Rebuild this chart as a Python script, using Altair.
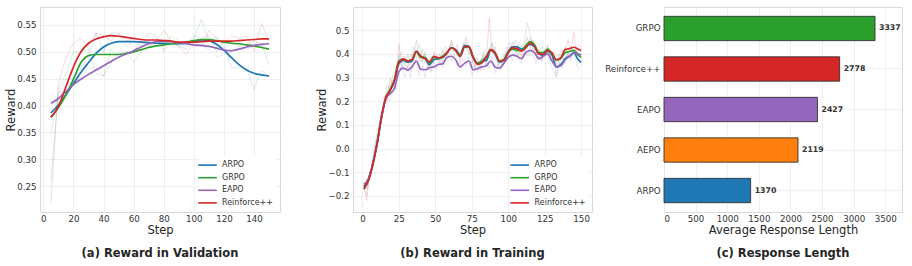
import altair as alt
import pandas as pd

SERIES = ["ARPO", "GRPO", "EAPO", "Reinforce++"]
COLORS = ["#1f77b4", "#2ca02c", "#9467bd", "#d62728"]

# ---------------- (a) Reward in Validation ----------------
val_steps = list(range(5, 155, 5))
val_smooth_arpo = [0.386, 0.401, 0.420, 0.441, 0.462, 0.480, 0.497, 0.509, 0.516, 0.519,
                   0.519, 0.519, 0.518, 0.517, 0.516, 0.516, 0.515, 0.515, 0.516, 0.519,
                   0.522, 0.521, 0.514, 0.503, 0.489, 0.476, 0.466, 0.460, 0.457, 0.455]
val_smooth_grpo = [0.378, 0.396, 0.420, 0.449, 0.480, 0.493, 0.495, 0.495, 0.495, 0.495,
                   0.497, 0.500, 0.504, 0.508, 0.511, 0.513, 0.515, 0.516, 0.518, 0.521,
                   0.523, 0.523, 0.521, 0.518, 0.516, 0.515, 0.513, 0.511, 0.508, 0.505]
val_smooth_eapo = [0.404, 0.413, 0.426, 0.439, 0.449, 0.458, 0.466, 0.474, 0.482, 0.490,
                   0.496, 0.502, 0.509, 0.515, 0.519, 0.520, 0.519, 0.517, 0.515, 0.513,
                   0.512, 0.510, 0.507, 0.503, 0.502, 0.505, 0.509, 0.512, 0.514, 0.515]
val_smooth_rpp = [0.378, 0.398, 0.435, 0.472, 0.500, 0.516, 0.524, 0.528, 0.530, 0.529,
                  0.527, 0.525, 0.523, 0.522, 0.522, 0.521, 0.520, 0.518, 0.518, 0.518,
                  0.519, 0.520, 0.520, 0.520, 0.520, 0.521, 0.522, 0.523, 0.524, 0.524]

val_raw_arpo = [0.345, 0.42, 0.45, 0.45, 0.47, 0.495, 0.535, 0.50, 0.535, 0.535,
                0.51, 0.52, 0.51, 0.535, 0.53, 0.50, 0.52, 0.51, 0.505, 0.525,
                0.56, 0.52, 0.53, 0.51, 0.47, 0.47, 0.47, 0.43, 0.465, 0.455]
val_raw_grpo = [0.26, 0.43, 0.46, 0.50, 0.50, 0.505, 0.46, 0.455, 0.505, 0.49,
                0.50, 0.48, 0.50, 0.51, 0.52, 0.505, 0.53, 0.52, 0.51, 0.53,
                0.525, 0.53, 0.50, 0.52, 0.52, 0.51, 0.515, 0.52, 0.515, 0.475]
val_raw_eapo = [0.40, 0.41, 0.44, 0.445, 0.455, 0.47, 0.47, 0.455, 0.48, 0.50,
                0.50, 0.50, 0.52, 0.52, 0.52, 0.51, 0.52, 0.51, 0.52, 0.51,
                0.51, 0.505, 0.49, 0.495, 0.50, 0.51, 0.505, 0.51, 0.51, 0.515]
val_raw_rpp = [0.22, 0.44, 0.49, 0.515, 0.525, 0.51, 0.535, 0.53, 0.52, 0.535,
               0.52, 0.525, 0.52, 0.51, 0.52, 0.54, 0.52, 0.51, 0.495, 0.52,
               0.51, 0.54, 0.525, 0.515, 0.53, 0.525, 0.53, 0.50, 0.553, 0.52]

# ---------------- (b) Reward in Training ----------------
tr_steps = list(range(1, 149, 3)) + [150]
tr_smooth_arpo = [-0.16, -0.13, -0.068, 0.02, 0.13, 0.212, 0.245, 0.285, 0.358, 0.372,
                  0.365, 0.37, 0.412, 0.39, 0.38, 0.355, 0.375, 0.38, 0.385, 0.405,
                  0.425, 0.418, 0.395, 0.435, 0.43, 0.385, 0.36, 0.37, 0.372, 0.415,
                  0.40, 0.365, 0.375, 0.41, 0.43, 0.43, 0.42, 0.43, 0.44, 0.43,
                  0.40, 0.395, 0.41, 0.395, 0.345, 0.355, 0.38, 0.39, 0.405, 0.375, 0.365]
tr_smooth_grpo = [-0.17, -0.137, -0.072, 0.017, 0.128, 0.213, 0.25, 0.292, 0.37, 0.378,
                  0.37, 0.375, 0.408, 0.385, 0.385, 0.36, 0.385, 0.38, 0.39, 0.405,
                  0.425, 0.415, 0.39, 0.428, 0.428, 0.385, 0.36, 0.37, 0.39, 0.418,
                  0.405, 0.37, 0.375, 0.405, 0.42, 0.415, 0.415, 0.435, 0.452, 0.44,
                  0.405, 0.405, 0.42, 0.40, 0.375, 0.38, 0.405, 0.41, 0.415, 0.395, 0.385]
tr_smooth_eapo = [-0.15, -0.13, -0.065, 0.02, 0.13, 0.21, 0.232, 0.255, 0.325, 0.34,
                  0.332, 0.345, 0.37, 0.335, 0.333, 0.342, 0.345, 0.355, 0.358, 0.385,
                  0.39, 0.375, 0.345, 0.36, 0.37, 0.333, 0.338, 0.345, 0.35, 0.37,
                  0.345, 0.34, 0.36, 0.385, 0.395, 0.39, 0.38, 0.405, 0.415, 0.405,
                  0.38, 0.39, 0.40, 0.37, 0.345, 0.35, 0.375, 0.39, 0.405, 0.40, 0.395]
tr_smooth_rpp = [-0.169, -0.135, -0.07, 0.018, 0.13, 0.215, 0.245, 0.29, 0.365, 0.378,
                 0.37, 0.375, 0.41, 0.39, 0.38, 0.366, 0.39, 0.383, 0.386, 0.405,
                 0.425, 0.415, 0.39, 0.43, 0.432, 0.385, 0.356, 0.362, 0.385, 0.418,
                 0.405, 0.37, 0.372, 0.405, 0.425, 0.422, 0.412, 0.425, 0.446, 0.432,
                 0.40, 0.398, 0.415, 0.405, 0.375, 0.383, 0.418, 0.422, 0.428, 0.42, 0.414]

tr_raw_steps = list(range(1, 150, 2))
tr_raw_arpo = [-0.14, -0.17, -0.12, -0.05, 0.02, 0.07, 0.15, 0.19, 0.24, 0.27,
               0.29, 0.25, 0.40, 0.34, 0.37, 0.38, 0.33, 0.43, 0.40, 0.39,
               0.37, 0.40, 0.33, 0.37, 0.36, 0.40, 0.38, 0.41, 0.37, 0.42,
               0.44, 0.40, 0.42, 0.38, 0.45, 0.42, 0.44, 0.36, 0.39, 0.34,
               0.37, 0.39, 0.35, 0.42, 0.44, 0.38, 0.36, 0.34, 0.39, 0.40,
               0.45, 0.42, 0.46, 0.40, 0.44, 0.41, 0.43, 0.47, 0.41, 0.43,
               0.38, 0.41, 0.39, 0.43, 0.37, 0.38, 0.31, 0.36, 0.39, 0.36,
               0.41, 0.38, 0.42, 0.35, 0.33]
tr_raw_grpo = [-0.18, -0.15, -0.13, -0.06, 0.03, 0.10, 0.14, 0.20, 0.27, 0.25,
               0.31, 0.34, 0.38, 0.41, 0.35, 0.40, 0.36, 0.41, 0.38, 0.44,
               0.36, 0.41, 0.35, 0.39, 0.37, 0.39, 0.36, 0.42, 0.39, 0.41,
               0.45, 0.42, 0.39, 0.41, 0.40, 0.45, 0.40, 0.42, 0.35, 0.37,
               0.36, 0.41, 0.38, 0.42, 0.45, 0.39, 0.37, 0.36, 0.40, 0.38,
               0.43, 0.41, 0.42, 0.39, 0.43, 0.45, 0.53, 0.49, 0.42, 0.42,
               0.40, 0.43, 0.40, 0.42, 0.40, 0.38, 0.36, 0.40, 0.38, 0.43,
               0.39, 0.43, 0.41, 0.38, 0.37]
tr_raw_eapo = [-0.15, -0.22, -0.10, -0.08, 0.01, 0.06, 0.16, 0.18, 0.22, 0.20,
               0.24, 0.28, 0.31, 0.36, 0.30, 0.35, 0.30, 0.38, 0.36, 0.31,
               0.35, 0.30, 0.36, 0.32, 0.37, 0.33, 0.38, 0.34, 0.37, 0.41,
               0.37, 0.40, 0.34, 0.33, 0.38, 0.35, 0.39, 0.31, 0.35, 0.32,
               0.36, 0.33, 0.37, 0.34, 0.39, 0.32, 0.35, 0.33, 0.37, 0.38,
               0.40, 0.37, 0.41, 0.38, 0.36, 0.42, 0.39, 0.43, 0.40, 0.36,
               0.39, 0.37, 0.41, 0.39, 0.36, 0.33, 0.30, 0.37, 0.34, 0.38,
               0.40, 0.37, 0.42, 0.39, 0.36]
tr_raw_rpp = [-0.17, -0.20, -0.10, -0.09, 0.00, 0.08, 0.12, 0.22, 0.20, 0.30,
              0.26, 0.30, 0.44, 0.36, 0.39, 0.34, 0.40, 0.38, 0.46, 0.37,
              0.42, 0.36, 0.38, 0.33, 0.41, 0.37, 0.40, 0.36, 0.43, 0.40,
              0.46, 0.41, 0.44, 0.36, 0.43, 0.47, 0.41, 0.39, 0.34, 0.38,
              0.33, 0.40, 0.37, 0.55, 0.40, 0.43, 0.35, 0.38, 0.36, 0.43,
              0.41, 0.45, 0.41, 0.44, 0.39, 0.43, 0.47, 0.43, 0.46, 0.40,
              0.42, 0.37, 0.42, 0.44, 0.39, 0.41, 0.35, 0.39, 0.42, 0.40,
              0.46, 0.41, 0.49, 0.40, 0.44]

# ---------------- (c) Response Length ----------------
len_methods = ["GRPO", "Reinforce++", "EAPO", "AEPO", "ARPO"]
len_values = [3337, 2778, 2427, 2119, 1370]
len_colors = ["#2ca02c", "#d62728", "#9467bd", "#ff7f0e", "#1f77b4"]


def long_df(steps, series_dict):
    rows = []
    for name, vals in series_dict.items():
        for s, v in zip(steps, vals):
            rows.append({"step": s, "value": v, "series": name})
    return pd.DataFrame(rows)


val_smooth = long_df(val_steps, dict(zip(SERIES, [val_smooth_arpo, val_smooth_grpo, val_smooth_eapo, val_smooth_rpp])))
val_raw = long_df(val_steps, dict(zip(SERIES, [val_raw_arpo, val_raw_grpo, val_raw_eapo, val_raw_rpp])))
tr_smooth = long_df(tr_steps, dict(zip(SERIES, [tr_smooth_arpo, tr_smooth_grpo, tr_smooth_eapo, tr_smooth_rpp])))
tr_raw = long_df(tr_raw_steps, dict(zip(SERIES, [tr_raw_arpo, tr_raw_grpo, tr_raw_eapo, tr_raw_rpp])))
len_df = pd.DataFrame({"method": len_methods, "length": len_values})

color_scale = alt.Scale(domain=SERIES, range=COLORS)
FONT = "DejaVu Sans"


def make_legend(lx, ly, loff):
    return alt.Legend(
        title=None, orient="none", legendX=lx, legendY=ly,
        symbolType="M-2,0H2", symbolSize=87, symbolStrokeWidth=1.6,
        symbolOpacity=1,
        labelFontSize=8, labelOffset=loff, rowPadding=2.6,
        fillColor="white", padding=3, labelColor="#333333", labelFont=FONT,
    )


def caption(text):
    return alt.TitleParams(text, orient="bottom", anchor="middle", frame="group",
                           fontSize=11.5, fontWeight="bold", color="#262626",
                           font=FONT, offset=12)


def line_panel(smooth, raw, xdom, xticks, ydom, yticks, yfmt, legend, cap, w, h):
    x = alt.X("step:Q", scale=alt.Scale(domain=xdom, nice=False, zero=False),
              axis=alt.Axis(values=xticks, title="Step", labelPadding=2, titlePadding=2))
    y = alt.Y("value:Q", scale=alt.Scale(domain=ydom, nice=False, zero=False),
              axis=alt.Axis(values=yticks, format=yfmt, title="Reward", labelPadding=4, titlePadding=0))
    color = alt.Color("series:N", scale=color_scale, legend=legend, sort=SERIES)
    raw_layer = alt.Chart(raw).mark_line(strokeWidth=0.8, opacity=0.22).encode(
        x=x, y=y, color=color)
    smooth_layer = alt.Chart(smooth).mark_line(strokeWidth=1.7, interpolate="monotone").encode(
        x=x, y=y, color=color)
    return alt.layer(raw_layer, smooth_layer).properties(width=w, height=h, title=cap)


panel_a = line_panel(val_smooth, val_raw, [-2.25, 157.25], list(range(0, 141, 20)),
                     [0.2016, 0.5835], [0.25, 0.30, 0.35, 0.40, 0.45, 0.50, 0.55], ".2f",
                     make_legend(159, 149.6, 9), caption("(a) Reward in Validation"), 240, 205)

panel_b = line_panel(tr_smooth, tr_raw, [-6.45, 157.45], list(range(0, 151, 25)),
                     [-0.2676, 0.598], [-0.2, -0.1, 0.0, 0.1, 0.2, 0.3, 0.4, 0.5], ".1f",
                     make_legend(158.2, 149.6, 9.4), caption("(b) Reward in Training"), 239, 205)

bar_x = alt.X("length:Q", scale=alt.Scale(domain=[0, 3764], nice=False),
              axis=alt.Axis(values=list(range(0, 3501, 500)), format="d",
                            title="Average Response Length",
                            labelPadding=2, titlePadding=2))
bar_y = alt.Y("method:N", sort=len_methods,
              scale=alt.Scale(paddingInner=0.4, paddingOuter=0.23),
              axis=alt.Axis(title=None, grid=True, bandPosition=0.5, labelPadding=4))
bars = alt.Chart(len_df).mark_bar(stroke="#333333", strokeWidth=0.9).encode(
    x=bar_x, y=bar_y,
    color=alt.Color("method:N", scale=alt.Scale(domain=len_methods, range=len_colors), legend=None))
bar_text = alt.Chart(len_df).mark_text(align="left", baseline="middle", dx=4, fontSize=7.8,
                                       fontWeight="bold", color="#333333", font=FONT).encode(
    x=bar_x, y=bar_y, text="length:Q")
panel_c = alt.layer(bars, bar_text).properties(width=238, height=205,
                                                title=caption("(c) Response Length"))

chart = alt.hconcat(
    alt.hconcat(panel_a, panel_b, spacing=35).resolve_scale(color="independent")
    .resolve_legend(color="independent"),
    panel_c, spacing=11,
).resolve_scale(color="independent").resolve_legend(color="independent").properties(
    padding={"left": 5, "top": 6, "right": 0, "bottom": 0},
).configure(font=FONT).configure_axis(
    labelFontSize=8.7, titleFontSize=11.5, labelColor="#333333", titleColor="#262626",
    titleFontWeight="normal", domain=False, ticks=False, tickSize=0,
    gridColor="#ebebeb", gridWidth=0.8, labelFont=FONT, titleFont=FONT,
).configure_view(stroke="#d9d9d9", strokeWidth=1)

chart.save("out.html", embed_options={"renderer": "svg", "actions": False})
